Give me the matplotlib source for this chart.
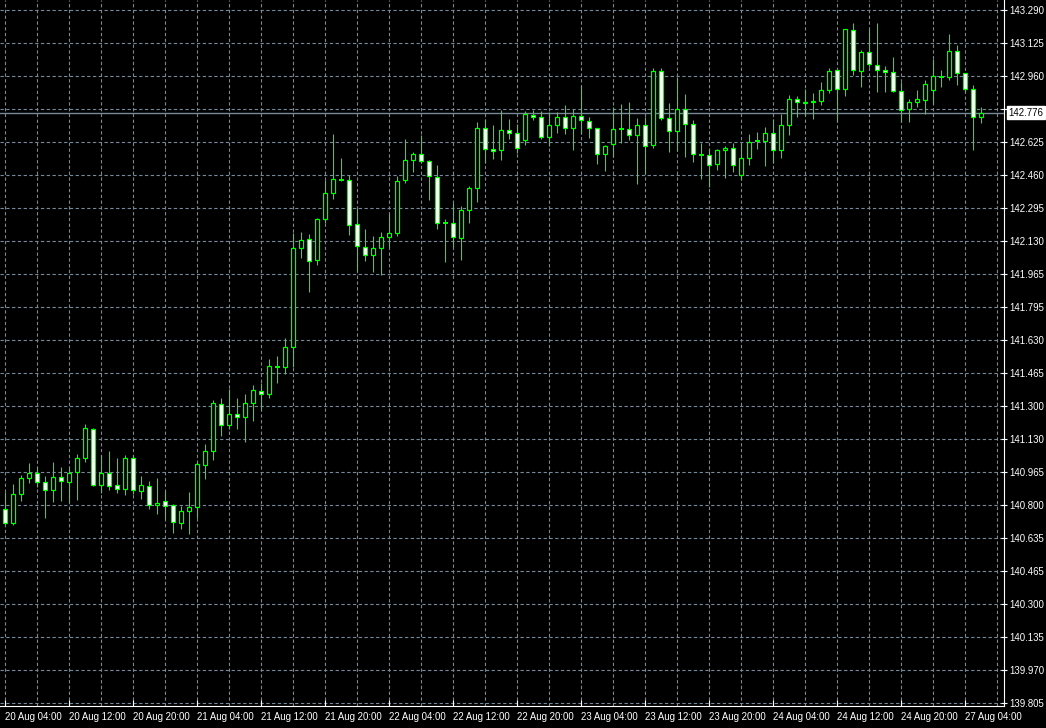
import numpy as np
import matplotlib
matplotlib.use("Agg")
import matplotlib.pyplot as plt
from matplotlib.patches import Rectangle
import matplotlib.transforms as mtransforms

# ---------------- data (hourly candles, 20 Aug 04:00 -> 27 Aug 06:00) ----------------
opens = [140.781, 140.710, 140.856, 140.937, 140.962, 140.917, 140.876, 140.942, 140.917, 140.967,
         141.037, 141.183, 140.901, 140.962, 140.901, 140.881, 141.037, 140.871, 140.896, 140.801,
         140.821, 140.801, 140.710, 140.771, 140.791, 141.002, 141.072, 141.309, 141.203, 141.259,
         141.243, 141.314, 141.374, 141.359, 141.495, 141.495, 141.595, 142.093, 142.139, 142.033,
         142.239, 142.370, 142.435, 142.435, 142.214, 142.098, 142.058, 142.093, 142.149, 142.169,
         142.435, 142.536, 142.566, 142.531, 142.450, 142.219, 142.219, 142.144, 142.284, 142.395,
         142.697, 142.591, 142.586, 142.687, 142.672, 142.636, 142.762, 142.752, 142.652, 142.712,
         142.752, 142.697, 142.757, 142.732, 142.697, 142.566, 142.616, 142.692, 142.692, 142.662,
         142.712, 142.611, 142.983, 142.747, 142.682, 142.792, 142.717, 142.562, 142.561, 142.516,
         142.586, 142.596, 142.462, 142.546, 142.631, 142.631, 142.672, 142.586, 142.712, 142.843,
         142.823, 142.828, 142.833, 142.888, 142.988, 142.893, 143.190, 142.983, 143.079, 143.014,
         142.988, 142.978, 142.883, 142.792, 142.828, 142.838, 142.888, 142.953, 142.953, 143.084,
         142.973, 142.893, 142.752]

highs = [140.869, 140.908, 140.952, 141.014, 140.992, 140.948, 141.019, 140.993, 140.992, 141.057,
         141.208, 141.188, 141.052, 141.072, 141.037, 141.052, 141.052, 140.947, 140.922, 140.937,
         140.871, 140.806, 140.796, 140.866, 141.020, 141.108, 141.329, 141.339, 141.384, 141.339,
         141.359, 141.404, 141.414, 141.535, 141.550, 141.641, 142.169, 142.174, 142.164, 142.244,
         142.435, 142.667, 142.546, 142.460, 142.294, 142.189, 142.154, 142.174, 142.264, 142.455,
         142.642, 142.576, 142.662, 142.536, 142.511, 142.239, 142.320, 142.305, 142.405, 142.728,
         142.742, 142.712, 142.787, 142.742, 142.717, 142.782, 142.787, 142.782, 142.777, 142.777,
         142.812, 142.792, 142.910, 142.752, 142.697, 142.611, 142.802, 142.817, 142.828, 142.747,
         142.752, 142.998, 142.998, 142.822, 142.953, 142.868, 142.737, 142.621, 142.591, 142.591,
         142.606, 142.621, 142.621, 142.667, 142.677, 142.702, 142.742, 142.767, 142.863, 142.858,
         142.893, 142.873, 142.928, 142.998, 142.988, 143.195, 143.225, 143.089, 143.195, 143.225,
         143.009, 143.054, 142.928, 142.843, 142.888, 142.938, 143.044, 142.988, 143.170, 143.114,
         142.973, 142.913, 142.802]

lows = [140.707, 140.703, 140.824, 140.912, 140.891, 140.739, 140.819, 140.824, 140.819, 140.829,
        141.017, 140.896, 140.861, 140.876, 140.861, 140.851, 140.856, 140.831, 140.781, 140.756,
        140.730, 140.660, 140.680, 140.655, 140.736, 140.932, 141.027, 141.148, 141.183, 141.183,
        141.118, 141.225, 141.279, 141.340, 141.414, 141.460, 141.495, 142.043, 141.872, 142.008,
        142.219, 142.340, 142.430, 142.159, 141.978, 142.028, 141.974, 141.959, 142.098, 142.154,
        142.420, 142.476, 142.521, 142.335, 142.189, 142.023, 142.098, 142.033, 142.219, 142.325,
        142.521, 142.541, 142.536, 142.642, 142.571, 142.611, 142.737, 142.642, 142.606, 142.672,
        142.667, 142.586, 142.667, 142.647, 142.516, 142.481, 142.551, 142.621, 142.636, 142.415,
        142.470, 142.596, 142.737, 142.576, 142.581, 142.551, 142.526, 142.440, 142.400, 142.486,
        142.445, 142.477, 142.437, 142.512, 142.591, 142.506, 142.521, 142.546, 142.662, 142.752,
        142.757, 142.742, 142.812, 142.873, 142.732, 142.858, 142.963, 142.903, 143.004, 142.878,
        142.878, 142.881, 142.727, 142.727, 142.802, 142.767, 142.823, 142.903, 142.938, 142.913,
        142.878, 142.586, 142.722]

closes = [140.710, 140.856, 140.937, 140.962, 140.917, 140.876, 140.942, 140.922, 140.962, 141.037,
          141.188, 140.901, 140.962, 140.896, 140.881, 141.037, 140.876, 140.901, 140.801, 140.811,
          140.796, 140.715, 140.771, 140.791, 141.007, 141.072, 141.314, 141.203, 141.259, 141.243,
          141.314, 141.379, 141.359, 141.500, 141.496, 141.595, 142.093, 142.134, 142.028, 142.239,
          142.370, 142.440, 142.436, 142.209, 142.103, 142.058, 142.093, 142.149, 142.169, 142.430,
          142.536, 142.566, 142.531, 142.455, 142.219, 142.220, 142.149, 142.284, 142.395, 142.698,
          142.591, 142.581, 142.687, 142.672, 142.596, 142.767, 142.752, 142.652, 142.712, 142.752,
          142.697, 142.757, 142.737, 142.697, 142.566, 142.606, 142.692, 142.693, 142.662, 142.712,
          142.606, 142.983, 142.747, 142.682, 142.792, 142.717, 142.566, 142.565, 142.511, 142.586,
          142.596, 142.511, 142.546, 142.626, 142.632, 142.672, 142.586, 142.712, 142.843, 142.828,
          142.828, 142.833, 142.888, 142.983, 142.893, 143.195, 142.988, 143.079, 143.019, 142.988,
          142.978, 142.883, 142.787, 142.828, 142.843, 142.918, 142.958, 142.954, 143.084, 142.973,
          142.893, 142.752, 142.776]

time_labels = ["20 Aug 04:00", "20 Aug 12:00", "20 Aug 20:00", "21 Aug 04:00",
               "21 Aug 12:00", "21 Aug 20:00", "22 Aug 04:00", "22 Aug 12:00",
               "22 Aug 20:00", "23 Aug 04:00", "23 Aug 12:00", "23 Aug 20:00",
               "24 Aug 04:00", "24 Aug 12:00", "24 Aug 20:00", "27 Aug 04:00"]

price_labels = ["139.805", "139.970", "140.135", "140.300", "140.465", "140.635",
                "140.800", "140.965", "141.130", "141.300", "141.465", "141.630",
                "141.795", "141.965", "142.130", "142.295", "142.460", "142.625",
                "142.790", "142.960", "143.125", "143.290"]

current_price = 142.776
price_low, price_high = 139.805, 143.290

# ---------------- style ----------------
BG = "black"
GREEN = "#00FF00"
GRID = "#778899"
FONT = "Liberation Sans"
FS = 6.9

fig = plt.figure(figsize=(10.46, 7.28), dpi=100, facecolor=BG)
W, H = 1046, 728
ax = fig.add_axes([0, 22 / H, 1004 / W, 706 / H], facecolor=BG)

n = len(opens)
x = np.arange(n)

step = (price_high - price_low) / (len(price_labels) - 1)
px_per_step = 33.0
ylo = price_low - step * (2.7 / px_per_step)
yhi = price_low + step * (703.3 / px_per_step)
ax.set_ylim(ylo, yhi)
ax.set_xlim(-5.3 / 8, (1004 - 5.3) / 8)

# grid
grid_y = price_low + step * np.arange(len(price_labels))
for gy in grid_y:
    ax.axhline(gy, color=GRID, lw=0.8, ls=(0, (3, 2.2)), zorder=1)
for gx in np.arange(0, n + 3, 4):
    ax.axvline(gx, color=GRID, lw=0.8, ls=(0, (3, 2.2)), zorder=1)

# current price line
ax.axhline(current_price, color=GRID, lw=1.0, zorder=2)

# candles
bw = 0.46
for i in range(n):
    o, h, l, c = opens[i], highs[i], lows[i], closes[i]
    ax.vlines(x[i], l, h, color=GREEN, lw=0.8, zorder=3)
    bottom = min(o, c)
    height = abs(c - o)
    face = "white" if c < o else "black"
    if height < 0.004:
        ax.hlines((o + c) / 2, x[i] - bw / 2 - 0.06, x[i] + bw / 2 + 0.06,
                  color=GREEN, lw=1.4, zorder=4)
    else:
        ax.add_patch(Rectangle((x[i] - bw / 2, bottom), bw, height,
                               facecolor=face, edgecolor=GREEN, lw=0.9, zorder=4))

# axes / spines
for s in ["left", "top"]:
    ax.spines[s].set_visible(False)
for s in ["right", "bottom"]:
    ax.spines[s].set_color("white")
    ax.spines[s].set_linewidth(0.8)

ax.yaxis.tick_right()
ax.set_yticks(grid_y)
ax.set_yticklabels([lab if lab != "142.790" else "" for lab in price_labels])
ax.tick_params(axis="y", colors="white", direction="inout", length=5, width=0.8,
               labelsize=FS, pad=1.5)
for t in ax.get_yticklabels():
    t.set_fontfamily(FONT)

ax.set_xticks(np.arange(0, len(time_labels) * 8, 8))
ax.set_xticklabels(time_labels)
ax.tick_params(axis="x", colors="white", direction="in", length=4, width=0.8,
               labelsize=FS, pad=4)
for t in ax.get_xticklabels():
    t.set_fontfamily(FONT)
    t.set_horizontalalignment("left")

# current price label box
trans = mtransforms.blended_transform_factory(ax.transAxes, ax.transData)
ax.text(1.0045, current_price, f"{current_price:.3f}", transform=trans,
        ha="left", va="center", fontsize=FS, family=FONT, color="black",
        bbox=dict(boxstyle="square,pad=0.2", facecolor="white", edgecolor="white"),
        zorder=10, clip_on=False)

fig.savefig("out.png", dpi=100, facecolor=BG)
